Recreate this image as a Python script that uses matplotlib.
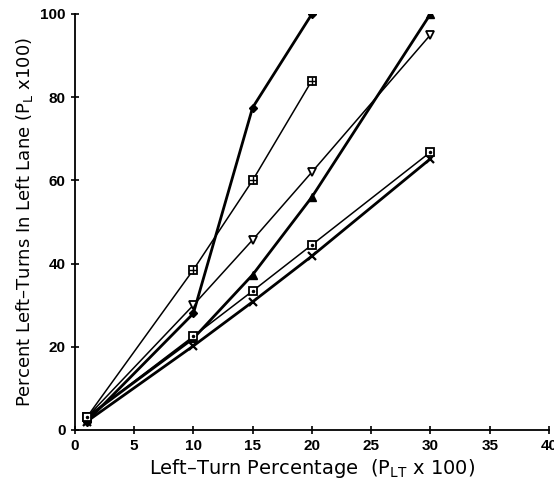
import numpy as np
from matplotlib import pyplot as plt

plt.rcParams['font.family'] = ['Liberation Sans', 'DejaVu Sans']

# datos
x_corta = [1, 10, 15, 20]
x_larga = [1, 10, 15, 20, 30]

rombo = [2, 28, 77.5, 100]          # rombos rellenos
cuad_cruz = [3, 38.5, 60, 84]       # cuadro con cruz
tri_abajo = [3, 30, 45.7, 62, 95]   # triangulo invertido abierto
tri_arriba = [3, 22, 37.3, 56, 100] # triangulo relleno
cuad_punto = [3, 22.5, 33.4, 44.5, 66.8]  # cuadro con punto
equis = [2, 20.2, 30.8, 41.8, 65.2]  # equis

x_ticks = [0, 5, 10, 15, 20, 25, 30, 35, 40]
y_ticks = [0, 20, 40, 60, 80, 100]

fig = plt.figure(figsize=(5.54, 4.82), dpi=100)
ax = fig.add_axes([0.135, 0.108, 0.856, 0.863])

# lineas gruesas
ax.plot(x_corta, rombo, color='black', lw=2.0, marker='D', ms=4.5, mfc='black')
ax.plot(x_larga, tri_arriba, color='black', lw=2.0, marker='^', ms=5.5, mfc='black')
ax.plot(x_larga, equis, color='black', lw=2.0, marker='x', ms=6, mew=1.6)

# lineas delgadas
ax.plot(x_corta, cuad_cruz, color='black', lw=1.1, marker='s', ms=5.5, mfc='white', mew=1.3)
ax.plot(x_corta, cuad_cruz, ls='none', color='black', marker='+', ms=5.5, mew=1.0)
ax.plot(x_larga, tri_abajo, color='black', lw=1.1, marker='v', ms=6, mfc='white', mew=1.3)
ax.plot(x_larga, cuad_punto, color='black', lw=1.1, marker='s', ms=5.5, mfc='white', mew=1.3)
ax.plot(x_larga, cuad_punto, ls='none', color='black', marker='.', ms=3)

ax.set_xlim(0, 40)
ax.set_ylim(0, 100)
ax.set_xticks(x_ticks)
ax.set_yticks(y_ticks)
ax.tick_params(direction='inout', length=6, width=1.2, labelsize=11)
for lab in ax.get_xticklabels() + ax.get_yticklabels():
    lab.set_fontweight('bold')

ax.spines['top'].set_visible(False)
ax.spines['right'].set_visible(False)
ax.spines['left'].set_linewidth(1.3)
ax.spines['bottom'].set_linewidth(1.3)

ax.set_xlabel(r'Left–Turn Percentage  (P$_\mathregular{LT}$ x 100)', fontsize=14,
              family='DejaVu Sans', labelpad=3)
ax.set_ylabel(r'Percent Left–Turns In Left Lane (P$_\mathregular{L}$ x100)', fontsize=13,
              family='DejaVu Sans', labelpad=4)

plt.savefig('out.png', dpi=100)
